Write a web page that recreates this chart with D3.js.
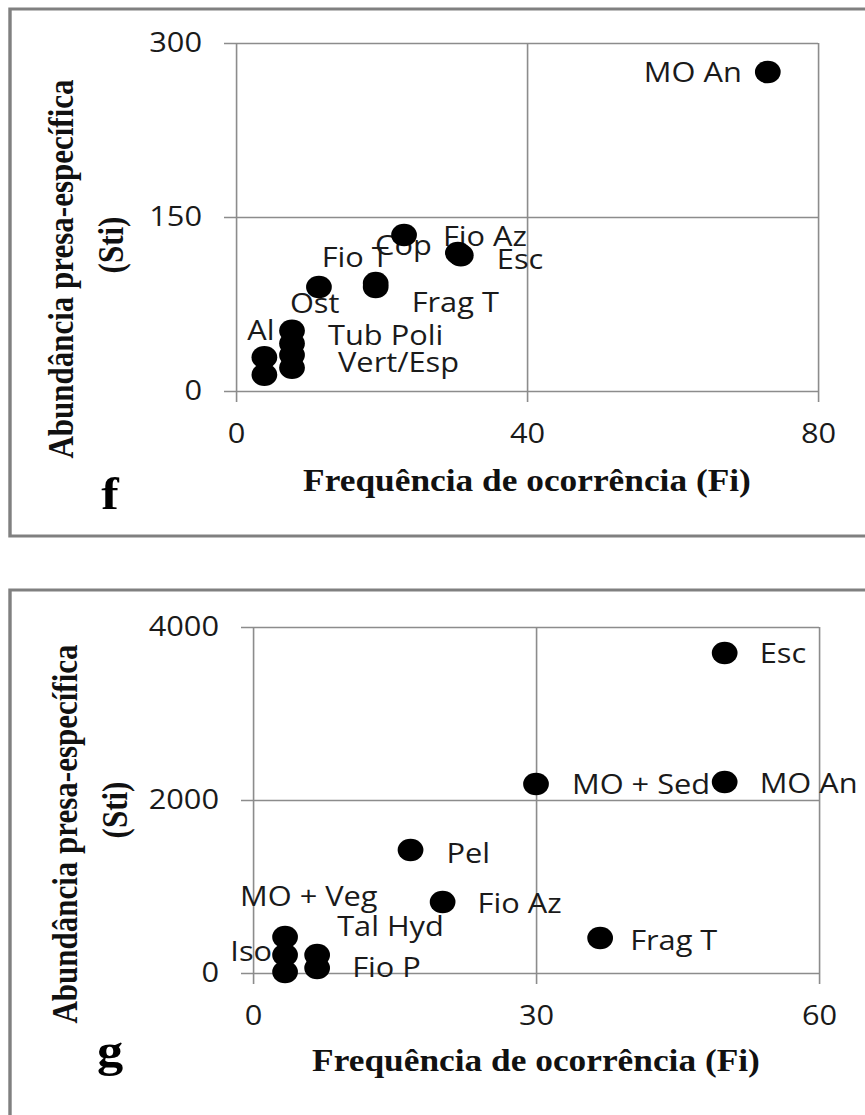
<!DOCTYPE html>
<html>
<head>
<meta charset="utf-8">
<script src="https://cdn.jsdelivr.net/npm/d3@7"></script>
<style>
  html, body { margin: 0; padding: 0; background: #fff; }
  svg { display: block; }
</style>
</head>
<body>
<div id="chart"></div>
<script>
// ---- Panel f: Fi vs Sti ----
const fNames = ["MO An", "Cop", "Fio Az", "Esc", "Fio T", "Frag T", "Ost", "Al", "Tub Poli", "Vert/Esp", "", "", ""];
const fFi    = [73.1, 23.1, 30.5, 30.9, 19.2, 19.2, 11.4, 3.9, 7.7, 7.7, 7.7, 7.7, 3.9];
const fSti   = [275, 134.5, 119, 117, 93, 89.7, 89.7, 29, 52, 20, 41, 31, 14];
const fXTicks = [0, 40, 80];
const fYTicks = [0, 150, 300];

// ---- Panel g: Fi vs Sti ----
const gNames = ["Esc", "MO An", "MO + Sed", "Pel", "Fio Az", "Frag T", "MO + Veg", "Iso", "Tal Hyd", "Fio P", ""];
const gFi    = [50, 50, 30, 16.7, 20.1, 36.8, 3.4, 3.4, 6.8, 6.8, 3.4];
const gSti   = [3700, 2208, 2185, 1422, 821, 405, 416, 208, 208, 58, 12];
const gXTicks = [0, 30, 60];
const gYTicks = [0, 2000, 4000];

const xTitle = "Frequência de ocorrência (Fi)";
const yTitle1 = "Abundância presa-específica";
const yTitle2 = "(Sti)";

// Label placement next to each dot: [dx, dy, anchor] in screen px
const fLabelPos = [[-26, 0, "end"], [-29, 10, "start"], [-15, -17, "start"], [36, 4, "start"],
  [-54, -26, "start"], [36, 15, "start"], [-29, 16, "start"], [-17, -27, "start"],
  [36, 5, "start"], [46, -6, "start"], [0, 0, "start"], [0, 0, "start"], [0, 0, "start"]];
const gLabelPos = [[35, 0, "start"], [35, 1, "start"], [36, 0, "start"], [36, 3, "start"],
  [35, 1, "start"], [30, 2, "start"], [-45, -41, "start"], [-13, -4, "end"],
  [20, -29, "start"], [35, -1, "start"], [0, 0, "start"]];

// The drawing is horizontally widened by K
const K = 1.14;
const WIDTH = 865, HEIGHT = 1115;
const X = v => v / K;

const svg = d3.select("#chart").append("svg")
  .attr("width", WIDTH).attr("height", HEIGHT)
  .attr("viewBox", `0 0 ${X(WIDTH)} ${HEIGHT}`)
  .attr("preserveAspectRatio", "none");

const GRID = "#8c8c8c";
const LABEL_FONT = "'Open Sans', 'Noto Sans', sans-serif";
const TITLE_FONT = "'Liberation Serif', 'Times New Roman', serif";

function drawPanel(cfg) {
  const g = svg.append("g");

  g.append("rect")
    .attr("x", X(10)).attr("y", cfg.frameTop)
    .attr("width", X(900)).attr("height", cfg.frameH)
    .attr("fill", "none").attr("stroke", "#808080").attr("stroke-width", 3);

  const x = d3.scaleLinear().domain([cfg.xTicks[0], cfg.xTicks[cfg.xTicks.length - 1]])
    .range([X(cfg.left), X(cfg.right)]);
  const y = d3.scaleLinear().domain([cfg.yTicks[0], cfg.yTicks[cfg.yTicks.length - 1]])
    .range([cfg.bottom, cfg.top]);

  // horizontal gridlines + left ticks
  const yAxis = d3.axisLeft(y).tickValues(cfg.yTicks).tickFormat(d3.format("d"))
    .tickSizeInner(-(X(cfg.right) - X(cfg.left) + X(12)))
    .tickSizeOuter(0).tickPadding(X(22));
  const ya = g.append("g").attr("transform", `translate(${X(cfg.left - 12)},0)`).call(yAxis);
  ya.select(".domain").remove();

  // vertical gridlines + bottom ticks
  const xAxis = d3.axisBottom(x).tickValues(cfg.xTicks).tickFormat(d3.format("d"))
    .tickSizeInner(-(cfg.bottom - cfg.top + 11))
    .tickSizeOuter(0).tickPadding(31);
  const xa = g.append("g").attr("transform", `translate(0,${cfg.bottom + 11})`).call(xAxis);
  xa.select(".domain").remove();
  xa.selectAll("text").attr("dy", "0.36em");

  [ya, xa].forEach(a => {
    a.attr("font-family", LABEL_FONT).attr("font-size", 27);
    a.selectAll(".tick line").attr("stroke", GRID).attr("stroke-width", 1.4);
    a.selectAll(".tick text").attr("fill", "#1a1a1a");
  });

  const pts = cfg.names.map((n, i) => ({ name: n, fi: cfg.fi[i], sti: cfg.sti[i], pos: cfg.labelPos[i] }));

  g.append("g").selectAll("text").data(pts.filter(d => d.name)).join("text")
    .attr("x", d => x(d.fi) + X(d.pos[0]))
    .attr("y", d => y(d.sti) + d.pos[1])
    .attr("dy", "0.36em")
    .attr("text-anchor", d => d.pos[2])
    .attr("font-family", LABEL_FONT).attr("font-size", 27).attr("fill", "#1a1a1a")
    .text(d => d.name);

  g.append("g").selectAll("circle").data(pts).join("circle")
    .attr("cx", d => x(d.fi)).attr("cy", d => y(d.sti)).attr("r", 11.3)
    .attr("fill", "#000");

  // axis titles
  g.append("text")
    .attr("x", X((cfg.left + cfg.right) / 2)).attr("y", cfg.xTitleY)
    .attr("text-anchor", "middle")
    .attr("font-family", TITLE_FONT).attr("font-weight", "bold").attr("font-size", 31)
    .attr("fill", "#111").text(xTitle);

  g.append("text")
    .attr("transform", `translate(${X(cfg.yTitleX1)},${cfg.yTitleY1}) rotate(-90)`)
    .attr("text-anchor", "middle").attr("dy", "0.32em")
    .attr("font-family", TITLE_FONT).attr("font-weight", "bold").attr("font-size", 31)
    .attr("fill", "#111").text(yTitle1);
  g.append("text")
    .attr("transform", `translate(${X(cfg.yTitleX2)},${cfg.yTitleY2}) rotate(-90)`)
    .attr("text-anchor", "middle").attr("dy", "0.32em")
    .attr("font-family", TITLE_FONT).attr("font-weight", "bold").attr("font-size", 31)
    .attr("fill", "#111").text(yTitle2);

  // panel letter
  g.append("text")
    .attr("x", X(cfg.letterX)).attr("y", cfg.letterY)
    .attr("text-anchor", "middle")
    .attr("font-family", TITLE_FONT).attr("font-weight", "bold").attr("font-size", 46)
    .attr("fill", "#000").text(cfg.letter);
}

drawPanel({
  names: fNames, fi: fFi, sti: fSti, labelPos: fLabelPos,
  xTicks: fXTicks, yTicks: fYTicks,
  left: 236, right: 818, top: 43, bottom: 391,
  frameTop: 9, frameH: 527,
  xTitleY: 491,
  yTitleX1: 62, yTitleY1: 269, yTitleX2: 112, yTitleY2: 245,
  letter: "f", letterX: 110, letterY: 509
});

drawPanel({
  names: gNames, fi: gFi, sti: gSti, labelPos: gLabelPos,
  xTicks: gXTicks, yTicks: gYTicks,
  left: 253, right: 819, top: 627, bottom: 973,
  frameTop: 590, frameH: 600,
  xTitleY: 1071,
  yTitleX1: 66, yTitleY1: 834, yTitleX2: 116, yTitleY2: 810,
  letter: "g", letterX: 110, letterY: 1066
});
</script>
</body>
</html>
